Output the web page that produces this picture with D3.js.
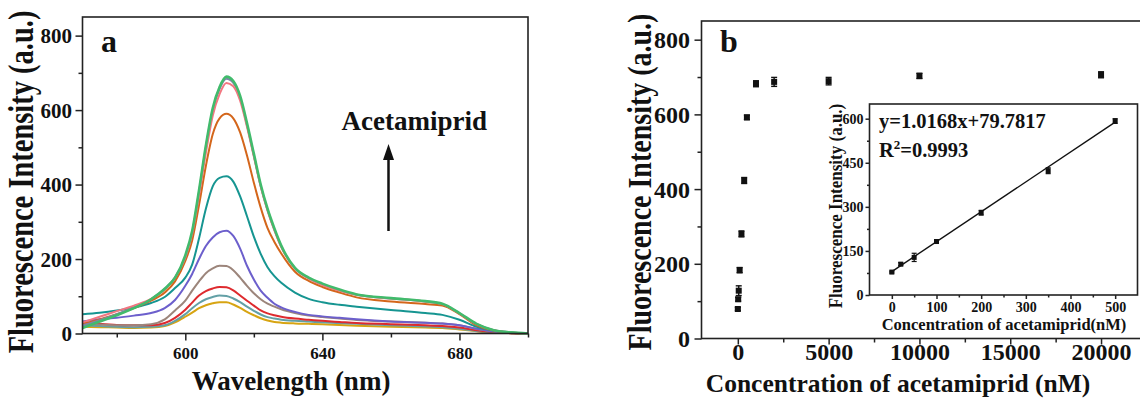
<!DOCTYPE html>
<html>
<head>
<meta charset="utf-8">
<script src="https://cdn.jsdelivr.net/npm/d3@7"></script>
<style>
	body { margin: 0; background: #fff; }
	svg { display: block; }
	text { font-family: "Liberation Serif", "Times New Roman", serif; font-weight: bold; fill: #111; }
	.domain { display: none; }
</style>
</head>
<body>
<div id="chart"></div>
<script>
// panel a : emission spectra, one array per acetamiprid level
var wavelength = [570, 575, 580, 585, 590, 594, 597, 600, 602, 604, 606, 608, 610, 612, 614, 616, 618, 620, 622, 624, 626, 628, 632, 636, 640, 645, 650, 660, 670, 675, 680, 685, 690, 695, 700];
var specGold   = [18, 17, 16, 15, 16, 20, 30, 45, 56, 68, 76, 81, 84, 84, 78, 69, 58, 49, 41, 35, 31, 29, 27, 26, 25, 23, 21, 18, 16, 15, 11, 6, 2, 1, 0];
var specCadet  = [23, 20, 18, 17, 18, 22, 34, 52, 68, 82, 92, 98, 102, 101, 94, 84, 72, 61, 51, 44, 40, 37, 34, 32, 30, 28, 26, 22, 19, 17, 13, 7, 3, 1, 0];
var specRed    = [30, 26, 23, 22, 22, 28, 42, 64, 83, 102, 114, 121, 125, 124, 116, 102, 88, 75, 62, 54, 49, 45, 40, 37, 34, 31, 28, 25, 22, 20, 16, 9, 4, 1, 0];
var specBrown  = [26, 24, 22, 22, 25, 38, 62, 88, 115, 140, 162, 175, 182, 181, 170, 150, 128, 108, 92, 80, 72, 65, 55, 48, 44, 40, 36, 32, 29, 27, 22, 12, 5, 2, 0];
var specPurple = [32, 38, 42, 48, 55, 68, 90, 128, 160, 200, 235, 258, 272, 276, 262, 228, 182, 145, 115, 96, 80, 70, 58, 50, 46, 42, 38, 32, 29, 27, 22, 13, 6, 2, 0];
var specTeal   = [52, 56, 62, 70, 82, 98, 122, 150, 185, 255, 335, 395, 418, 422, 408, 368, 315, 260, 214, 178, 154, 136, 110, 93, 84, 77, 72, 63, 55, 50, 37, 18, 8, 3, 0];
var specOrange = [25, 38, 52, 68, 88, 110, 140, 195, 250, 345, 450, 535, 578, 590, 578, 540, 478, 405, 338, 283, 246, 215, 166, 141, 125, 110, 97, 86, 79, 75, 52, 22, 8, 2, 0];
var specSlate  = [22, 36, 52, 70, 92, 120, 150, 205, 270, 380, 500, 600, 657, 684, 673, 633, 560, 478, 396, 332, 279, 234, 175, 148, 131, 116, 104, 94, 86, 79, 54, 25, 9, 3, 0];
var specPink   = [30, 45, 60, 75, 93, 118, 150, 205, 268, 370, 485, 585, 643, 673, 664, 625, 555, 475, 395, 330, 277, 232, 174, 148, 130, 115, 104, 94, 86, 79, 54, 25, 9, 3, 0];
var specGreen  = [15, 32, 49, 68, 92, 120, 150, 210, 275, 385, 505, 605, 662, 690, 678, 638, 565, 483, 400, 335, 282, 236, 176, 150, 134, 118, 105, 95, 87, 80, 55, 26, 9, 3, 0];

// panel b : intensity against concentration
var concentration = [0, 20, 50, 100, 200, 350, 500, 1000, 2000, 5000, 10000, 20000];
var intensity     = [79, 105, 128, 183, 280, 423, 592, 682, 687, 689, 703, 706];
var intensityErr  = [4, 5, 13, 7, 8, 8, 6, 8, 12, 10, 7, 8];

// inset : linear range
var insetConc      = [0, 20, 50, 100, 200, 350, 500];
var insetIntensity = [78, 105, 128, 182, 280, 423, 592];
var insetErr       = [3, 5, 14, 5, 8, 10, 8];
var fitSlope = 1.0168, fitIntercept = 79.7817;

var ticksA_x = [600, 640, 680], minorA_x = [580, 620, 660, 700];
var ticksY = [0, 200, 400, 600, 800], minorY = [100, 300, 500, 700];
var ticksB_x = [0, 5000, 10000, 15000, 20000], minorB_x = [2500, 7500, 12500, 17500];
var ticksI_x = [0, 100, 200, 300, 400, 500], minorI_x = [50, 150, 250, 350, 450];
var ticksI_y = [0, 150, 300, 450, 600], minorI_y = [75, 225, 375, 525];

var svg = d3.select('#chart').append('svg')
	.attr('width', 1140).attr('height', 406);

function axisBox(g, x0, x1, y0, y1){
	g.append('rect')
	.attr('x', x0).attr('y', y0)
	.attr('width', x1 - x0).attr('height', y1 - y0)
	.attr('fill', 'none').attr('stroke', '#222').attr('stroke-width', 1.6);
}

function drawAxis(g, axis, pos, font, tx, ty){
	var a = g.append('g').attr('transform', 'translate(' + pos + ')').call(axis);
	a.selectAll('line').attr('stroke', '#222').attr('stroke-width', 1.5);
	a.selectAll('text').style('font-size', font + 'px');
	if(tx !== undefined){
		a.selectAll('text').attr('x', tx).attr('dy', '0.34em');
	}
	if(ty !== undefined){
		a.selectAll('text').attr('y', ty).attr('dy', null);
	}
	return a;
}

// vertical title, glyphs stretched across the line like in the original figure
function yTitle(g, x, y, size, stretch){
	g.append('text')
	.attr('transform', 'translate(' + [x, y] + ') rotate(-90) scale(1,' + stretch + ')')
	.attr('text-anchor', 'middle')
	.style('font-size', size + 'px')
	.text('Fluorescence Intensity (a.u.)');
}

// ---------- panel a ----------
(function(){
	var L = 82.5, R = 528, T = 17, B = 333.5;
	var x = d3.scaleLinear().domain([570, 700]).range([L, R]);
	var y = d3.scaleLinear().domain([0, 850]).range([B, T]);
	var g = svg.append('g');

	var series = [
		{v: specGold, c: '#d7a412'},
		{v: specCadet, c: '#63a0a6'},
		{v: specRed, c: '#de2a2e'},
		{v: specBrown, c: '#9c857b'},
		{v: specPurple, c: '#6c5fcc'},
		{v: specTeal, c: '#169591'},
		{v: specOrange, c: '#d4661b'},
		{v: specSlate, c: '#8084a8'},
		{v: specPink, c: '#f27680'},
		{v: specGreen, c: '#41bb6c'}
	];
	var line = d3.line()
	.x(function(d, i){ return x(wavelength[i]); })
	.y(function(d){ return y(d); })
	.curve(d3.curveMonotoneX);

	g.selectAll('path.spec')
	.data(series)
	.enter().append('path')
	.attr('class', 'spec')
	.attr('d', function(d){ return line(d.v); })
	.attr('fill', 'none')
	.attr('stroke', function(d){ return d.c; })
	.attr('stroke-width', function(d, i){ return i == series.length - 1 ? 2.6 : 2; });

	axisBox(g, L, R, T, B);
	drawAxis(g, d3.axisBottom(x).tickValues(ticksA_x).tickSize(7).tickFormat(d3.format('d')), [0, B], 17, undefined, 25);
	drawAxis(g, d3.axisBottom(x).tickValues(minorA_x).tickSize(4).tickFormat(''), [0, B], 17);
	drawAxis(g, d3.axisLeft(y).tickValues(ticksY).tickSize(7), [L, 0], 21, -10.5);
	drawAxis(g, d3.axisLeft(y).tickValues(minorY).tickSize(4).tickFormat(''), [L, 0], 21);

	g.append('text').attr('x', 101).attr('y', 52).style('font-size', '32px').text('a');
	g.append('text').attr('x', 341.5).attr('y', 130).style('font-size', '27px').text('Acetamiprid');
	g.append('line')
	.attr('x1', 388.5).attr('x2', 388.5).attr('y1', 231).attr('y2', 156)
	.attr('stroke', '#111').attr('stroke-width', 2.5);
	g.append('path')
	.attr('d', 'M388.5,144 L383,160 L394,160 Z')
	.attr('fill', '#111');

	yTitle(g, 33, 182, 28.5, 1.22);
	g.append('text')
	.attr('x', 291).attr('y', 390)
	.attr('text-anchor', 'middle')
	.style('font-size', '27px')
	.text('Wavelength (nm)');
})();

// ---------- panel b ----------
(function(){
	var L = 701.5, R = 1141, T = 21, B = 338.5;
	var x = d3.scaleLinear().domain([-2000, 22200]).range([L, R]);
	var y = d3.scaleLinear().domain([0, 850]).range([B, T]);
	var g = svg.append('g');

	axisBox(g, L, R, T, B);
	drawAxis(g, d3.axisBottom(x).tickValues(ticksB_x).tickSize(6).tickFormat(d3.format('d')), [0, B], 24, undefined, 21.5);
	drawAxis(g, d3.axisBottom(x).tickValues(minorB_x).tickSize(4).tickFormat(''), [0, B], 24);
	drawAxis(g, d3.axisLeft(y).tickValues(ticksY).tickSize(7), [L, 0], 24, -11.5);
	drawAxis(g, d3.axisLeft(y).tickValues(minorY).tickSize(4).tickFormat(''), [L, 0], 24);

	var pts = g.selectAll('g.pt')
	.data(concentration)
	.enter().append('g').attr('class', 'pt');
	pts.append('line')
	.attr('x1', function(d){ return x(d); }).attr('x2', function(d){ return x(d); })
	.attr('y1', function(d, i){ return y(intensity[i] - intensityErr[i]); })
	.attr('y2', function(d, i){ return y(intensity[i] + intensityErr[i]); })
	.attr('stroke', '#111').attr('stroke-width', 1.4);
	[-1, 1].forEach(function(s){
		pts.append('line')
		.attr('x1', function(d){ return x(d) - 3; }).attr('x2', function(d){ return x(d) + 3; })
		.attr('y1', function(d, i){ return y(intensity[i] + s*intensityErr[i]); })
		.attr('y2', function(d, i){ return y(intensity[i] + s*intensityErr[i]); })
		.attr('stroke', '#111').attr('stroke-width', 1.4);
	});
	pts.append('rect')
	.attr('x', function(d){ return x(d) - 3; })
	.attr('y', function(d, i){ return y(intensity[i]) - 3; })
	.attr('width', 6).attr('height', 6)
	.attr('fill', '#111');

	g.append('text').attr('x', 720).attr('y', 52).style('font-size', '32px').text('b');

	yTitle(g, 651, 182, 28, 1.22);
	g.append('text')
	.attr('x', 898).attr('y', 392)
	.attr('text-anchor', 'middle')
	.style('font-size', '25.5px')
	.text('Concentration of acetamiprid (nM)');
})();

// ---------- inset ----------
(function(){
	var L = 869.5, R = 1137.5, T = 104, B = 295;
	var x = d3.scaleLinear().domain([-50, 550]).range([L, R]);
	var y = d3.scaleLinear().domain([0, 650]).range([B, T]);
	var g = svg.append('g');

	g.append('rect').attr('x', L).attr('y', T).attr('width', R - L).attr('height', B - T).attr('fill', '#fff');
	axisBox(g, L, R, T, B);
	drawAxis(g, d3.axisBottom(x).tickValues(ticksI_x).tickSize(4).tickFormat(d3.format('d')), [0, B], 14, undefined, 16.5);
	drawAxis(g, d3.axisBottom(x).tickValues(minorI_x).tickSize(2.5).tickFormat(''), [0, B], 14);
	drawAxis(g, d3.axisLeft(y).tickValues(ticksI_y).tickSize(4).tickFormat(d3.format('d')), [L, 0], 14, -6);
	drawAxis(g, d3.axisLeft(y).tickValues(minorI_y).tickSize(2.5).tickFormat(''), [L, 0], 14);

	g.append('line')
	.attr('x1', x(0)).attr('x2', x(500))
	.attr('y1', y(fitIntercept)).attr('y2', y(fitSlope*500 + fitIntercept))
	.attr('stroke', '#111').attr('stroke-width', 1.4);

	var pts = g.selectAll('g.ipt')
	.data(insetConc)
	.enter().append('g').attr('class', 'ipt');
	pts.append('line')
	.attr('x1', function(d){ return x(d); }).attr('x2', function(d){ return x(d); })
	.attr('y1', function(d, i){ return y(insetIntensity[i] - insetErr[i]); })
	.attr('y2', function(d, i){ return y(insetIntensity[i] + insetErr[i]); })
	.attr('stroke', '#111').attr('stroke-width', 1.2);
	[-1, 1].forEach(function(s){
		pts.append('line')
		.attr('x1', function(d){ return x(d) - 2.5; }).attr('x2', function(d){ return x(d) + 2.5; })
		.attr('y1', function(d, i){ return y(insetIntensity[i] + s*insetErr[i]); })
		.attr('y2', function(d, i){ return y(insetIntensity[i] + s*insetErr[i]); })
		.attr('stroke', '#111').attr('stroke-width', 1.2);
	});
	pts.append('rect')
	.attr('x', function(d){ return x(d) - 2.5; })
	.attr('y', function(d, i){ return y(insetIntensity[i]) - 2.5; })
	.attr('width', 5).attr('height', 5)
	.attr('fill', '#111');

	g.append('text').attr('x', 879).attr('y', 128).style('font-size', '20.5px')
	.text('y=' + fitSlope + 'x+' + fitIntercept);
	var r2 = g.append('text').attr('x', 879).attr('y', 157).style('font-size', '20.5px');
	r2.append('tspan').text('R');
	r2.append('tspan').attr('dy', -8).style('font-size', '13px').text('2');
	r2.append('tspan').attr('dy', 8).text('=0.9993');

	yTitle(g, 842, 206, 17, 1.05);
	g.append('text')
	.attr('x', 1004).attr('y', 330)
	.attr('text-anchor', 'middle')
	.style('font-size', '16.5px')
	.text('Concentration of acetamiprid(nM)');
})();
</script>
</body>
</html>
